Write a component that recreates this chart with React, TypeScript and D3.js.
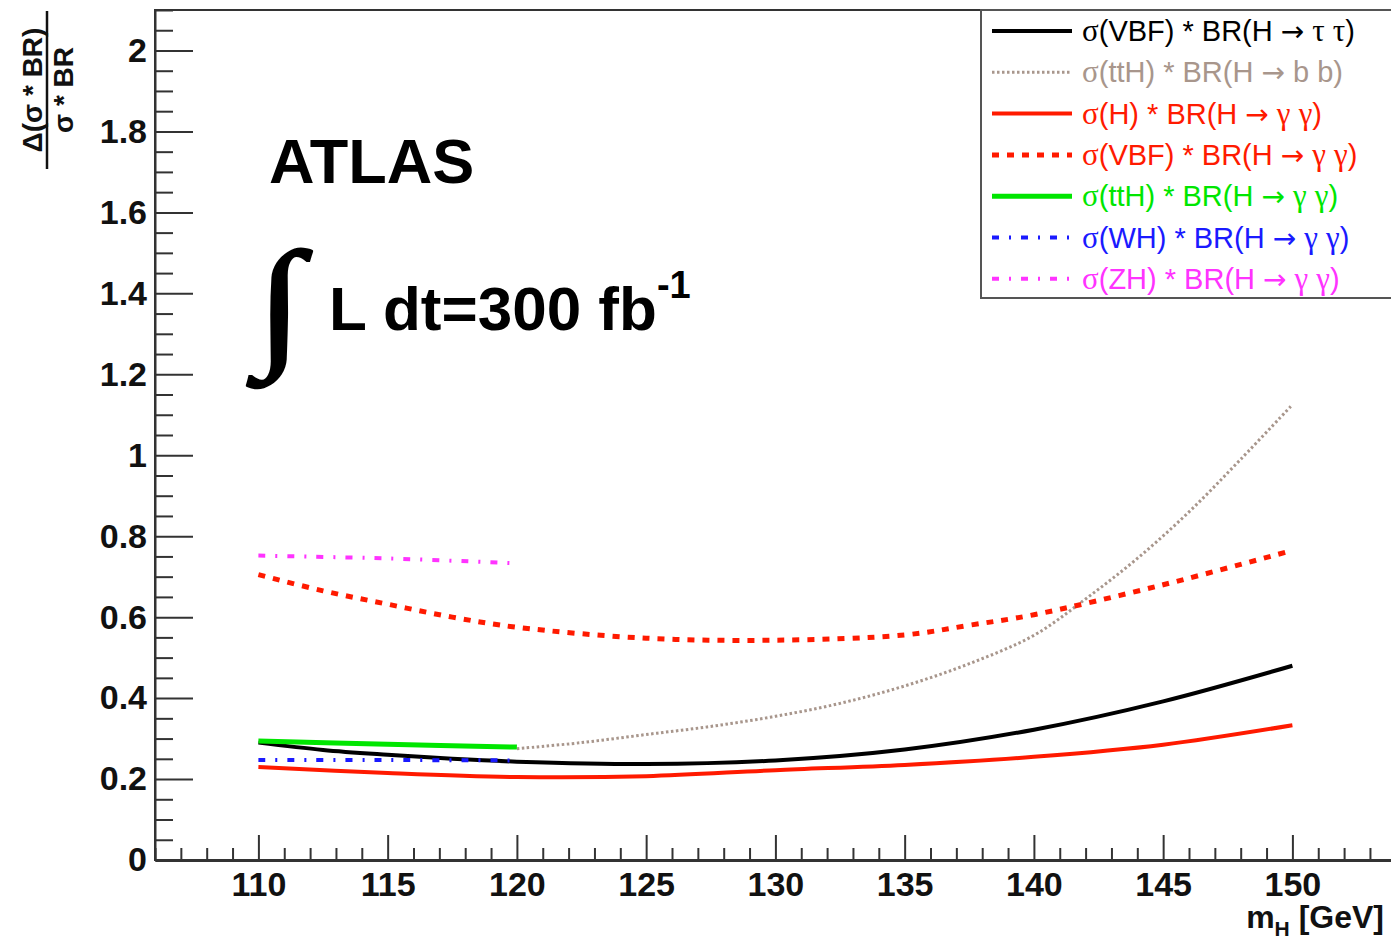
import { useEffect, useRef } from 'react';
import * as d3 from 'd3';

// values
const massVbfTauTau = [110, 112.5, 115, 117.5, 120, 125, 130, 135, 140, 145, 150];
const vbfTauTau = [0.29, 0.272, 0.26, 0.25, 0.243, 0.237, 0.246, 0.273, 0.322, 0.392, 0.48];

const massTthBb = [120, 122.5, 125, 127.5, 130, 132.5, 135, 137.5, 140, 142, 144, 146, 148, 150];
const tthBb = [0.275, 0.29, 0.31, 0.33, 0.355, 0.387, 0.43, 0.485, 0.555, 0.645, 0.745, 0.86, 0.99, 1.125];

const massHGamma = [110, 115, 120, 125, 130, 135, 140, 145, 150];
const hGamma = [0.23, 0.215, 0.205, 0.207, 0.222, 0.235, 0.255, 0.285, 0.333];

const massVbfGamma = [110, 112.5, 115, 117.5, 120, 125, 130, 135, 137.5, 140, 145, 150];
const vbfGamma = [0.705, 0.665, 0.632, 0.6, 0.575, 0.548, 0.543, 0.556, 0.58, 0.606, 0.68, 0.765];

const massTthGamma = [110, 115, 120];
const tthGamma = [0.294, 0.286, 0.279];

const massWhGamma = [110, 115, 120];
const whGamma = [0.247, 0.247, 0.246];

const massZhGamma = [110, 115, 120];
const zhGamma = [0.752, 0.745, 0.733];

const xMajorTicks = [110, 115, 120, 125, 130, 135, 140, 145, 150];
const yMajorTicks = [0, 0.2, 0.4, 0.6, 0.8, 1, 1.2, 1.4, 1.6, 1.8, 2];

const legendLabels = [
  'σ(VBF) * BR(H → τ τ)',
  'σ(ttH) * BR(H → b b)',
  'σ(H) * BR(H → γ γ)',
  'σ(VBF) * BR(H → γ γ)',
  'σ(ttH) * BR(H → γ γ)',
  'σ(WH) * BR(H → γ γ)',
  'σ(ZH) * BR(H → γ γ)',
];

const FONT = '"Liberation Sans", Arial, Helvetica, sans-serif';
const SERIF = '"Liberation Serif", "DejaVu Serif", serif';

const App = () => {
  const ref = useRef<SVGSVGElement>(null);

  useEffect(() => {
    document.body.style.margin = '0';
    const width = 1391;
    const height = 943;
    const left = 155;
    const top = 10;
    const bottom = 860;

    const svg = d3.select(ref.current);
    svg.selectAll('*').remove();
    svg.attr('width', width).attr('height', height).style('background', '#fff');

    const x = d3.scaleLinear().domain([106, 154]).range([left, left + 48 * 25.85]);
    const y = d3.scaleLinear().domain([0, 2.1]).range([bottom, top]);

    const series = [
      { xs: massVbfTauTau, ys: vbfTauTau, color: '#000000', width: 4, dash: null },
      { xs: massTthBb, ys: tthBb, color: '#a8968c', width: 3, dash: '2.5,2.5' },
      { xs: massHGamma, ys: hGamma, color: '#ff1a00', width: 4, dash: null },
      { xs: massVbfGamma, ys: vbfGamma, color: '#ff1a00', width: 5, dash: '7,8' },
      { xs: massTthGamma, ys: tthGamma, color: '#00e600', width: 5, dash: null },
      { xs: massWhGamma, ys: whGamma, color: '#1a1aff', width: 4, dash: '7,10,2,10' },
      { xs: massZhGamma, ys: zhGamma, color: '#ff33ff', width: 4, dash: '7,10,2,10' },
    ];

    // frame
    svg.append('rect')
      .attr('x', left).attr('y', top)
      .attr('width', x.range()[1] - left).attr('height', bottom - top)
      .attr('fill', 'none').attr('stroke', '#333').attr('stroke-width', 2);

    // curves
    const line = d3.line<[number, number]>()
      .x((d) => x(d[0]))
      .y((d) => y(d[1]))
      .curve(d3.curveCatmullRom.alpha(0.5));

    series.forEach((s) => {
      const pts = s.xs.map((m, i) => [m, s.ys[i]] as [number, number]);
      svg.append('path')
        .attr('d', line(pts))
        .attr('fill', 'none')
        .attr('stroke', s.color)
        .attr('stroke-width', s.width)
        .attr('stroke-dasharray', s.dash)
        .attr('stroke-linecap', 'butt');
    });

    // y axis
    const yMinor = d3.range(0, 2.1001, 0.05).filter((v) => Math.abs(v * 5 - Math.round(v * 5)) > 1e-6);
    svg.append('g')
      .attr('transform', `translate(${left},0)`)
      .call(d3.axisLeft(y).tickValues(yMinor).tickSizeInner(-18).tickSizeOuter(0).tickFormat(() => ''))
      .call((g) => g.select('.domain').remove())
      .selectAll('line').attr('stroke', '#333').attr('stroke-width', 2);
    const yAxis = svg.append('g')
      .attr('transform', `translate(${left},0)`)
      .call(d3.axisLeft(y).tickValues(yMajorTicks).tickSizeInner(-38).tickSizeOuter(0).tickPadding(8)
        .tickFormat((d) => `${d}`));
    yAxis.select('.domain').attr('stroke', '#333').attr('stroke-width', 2);
    yAxis.selectAll('line').attr('stroke', '#333').attr('stroke-width', 2);
    yAxis.selectAll('text')
      .attr('font-family', FONT).attr('font-size', 34).attr('font-weight', 'bold').attr('fill', '#111');

    // x axis
    const xMinor = d3.range(106, 155, 1).filter((v) => v % 5 !== 0);
    svg.append('g')
      .attr('transform', `translate(0,${bottom})`)
      .call(d3.axisBottom(x).tickValues(xMinor).tickSizeInner(-12).tickSizeOuter(0).tickFormat(() => ''))
      .call((g) => g.select('.domain').remove())
      .selectAll('line').attr('stroke', '#333').attr('stroke-width', 2);
    const xAxis = svg.append('g')
      .attr('transform', `translate(0,${bottom})`)
      .call(d3.axisBottom(x).tickValues(xMajorTicks).tickSizeInner(-25).tickSizeOuter(0).tickPadding(12));
    xAxis.select('.domain').attr('stroke', '#333').attr('stroke-width', 3);
    xAxis.selectAll('line').attr('stroke', '#333').attr('stroke-width', 2);
    xAxis.selectAll('text')
      .attr('font-family', FONT).attr('font-size', 34).attr('font-weight', 'bold').attr('fill', '#111');

    // x title
    const xt = svg.append('text')
      .attr('x', 1384).attr('y', 928)
      .attr('text-anchor', 'end')
      .attr('font-family', FONT).attr('font-size', 32).attr('font-weight', 'bold').attr('fill', '#111');
    xt.append('tspan').text('m');
    xt.append('tspan').attr('font-size', 21).attr('dy', 8).text('H');
    xt.append('tspan').attr('dy', -8).text(' [GeV]');

    // y title (fraction)
    const yt = svg.append('g').attr('transform', 'translate(47,90) rotate(-90)')
      .attr('font-family', FONT).attr('font-weight', 'bold').attr('fill', '#111');
    yt.append('text').attr('x', 0).attr('y', -5).attr('text-anchor', 'middle')
      .attr('font-size', 28).text('Δ(σ * BR)');
    yt.append('text').attr('x', 0).attr('y', 26).attr('text-anchor', 'middle')
      .attr('font-size', 28).text('σ * BR');
    yt.append('line').attr('x1', -79).attr('x2', 79).attr('y1', 0).attr('y2', 0)
      .attr('stroke', '#111').attr('stroke-width', 2.5);

    // ATLAS label
    svg.append('text')
      .attr('x', 269).attr('y', 183)
      .attr('font-family', FONT).attr('font-size', 63).attr('font-weight', 'bold').attr('fill', '#000')
      .text('ATLAS');

    svg.append('text')
      .attr('transform', 'translate(256,350) scale(1.2,1)')
      .attr('font-family', SERIF).attr('font-size', 142).attr('font-weight', 'bold')
      .attr('fill', '#000').attr('stroke', '#000').attr('stroke-width', 2.5)
      .text('∫');
    const lum = svg.append('text')
      .attr('x', 329).attr('y', 330)
      .attr('font-family', FONT).attr('font-size', 62).attr('font-weight', 'bold').attr('fill', '#000');
    lum.append('tspan').text('L dt=300 fb');
    lum.append('tspan').attr('font-size', 38).attr('dy', -32).text('-1');

    // legend
    const lg = svg.append('g');
    lg.append('rect')
      .attr('x', 981).attr('y', 10).attr('width', 412).attr('height', 288)
      .attr('fill', '#fff').attr('stroke', '#555').attr('stroke-width', 2);
    legendLabels.forEach((label, i) => {
      const s = series[i];
      const cy = 31 + i * 41.3;
      lg.append('line')
        .attr('x1', 992).attr('x2', 1072).attr('y1', cy).attr('y2', cy)
        .attr('stroke', s.color).attr('stroke-width', s.width)
        .attr('stroke-dasharray', s.dash);
      const t = lg.append('text')
        .attr('x', 1082).attr('y', cy + 10)
        .attr('font-family', FONT).attr('font-size', 29).attr('fill', s.color);
      // greek letters and the arrow in other fonts, like ROOT's symbol font
      label.split(/([στγ→])/).filter((p) => p !== '').forEach((part) => {
        const ts = t.append('tspan').text(part);
        if (part === '→') ts.attr('font-family', '"DejaVu Sans", sans-serif').attr('font-size', 28);
        else if ('στγ'.includes(part)) ts.attr('font-family', SERIF).attr('font-size', 31);
      });
    });
  }, []);

  return <svg ref={ref}></svg>;
};

export default App;
